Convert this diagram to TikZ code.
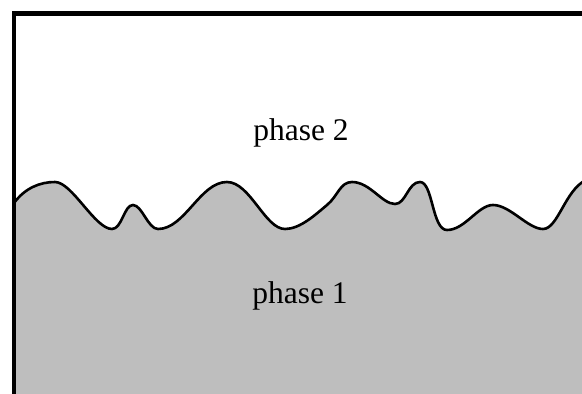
\documentclass[tikz,border=0pt]{standalone}
\usepackage{fontspec}
\setmainfont{Liberation Serif}
\begin{document}
\begin{tikzpicture}[x=1pt,y=-1pt,
  interface/.style={line width=2.6pt},
  boxline/.style={line width=4.2pt},
  label/.style={font=\fontsize{31.5}{36}\selectfont, inner sep=0pt}]
\useasboundingbox (0,0) rectangle (582,394);
\definecolor{phasegray}{RGB}{190,190,190}
\def\interfacepath{(14,203) .. controls (25,188) and (40,182) .. (55,182)
  .. controls (72,182) and (95,229) .. (112,229)
  .. controls (122,229) and (124,205) .. (133,205)
  .. controls (142,205) and (148,229) .. (158,229)
  .. controls (185,229) and (200,182) .. (227,182)
  .. controls (250,182) and (265,229) .. (285,229)
  .. controls (300,229) and (315,215) .. (327,205)
  .. controls (338,196) and (340,182) .. (352,182)
  .. controls (370,182) and (382,204) .. (395,204)
  .. controls (406,204) and (408,182) .. (420,182)
  .. controls (433,182) and (432,230) .. (447,230)
  .. controls (465,230) and (478,205) .. (493,205)
  .. controls (510,205) and (528,229) .. (543,229)
  .. controls (558,229) and (565,190) .. (586,180)}
% phase 1 fill
\fill[phasegray] \interfacepath -- (586,400) -- (14,400) -- cycle;
% interface
\draw[interface] \interfacepath;
% box
\coordinate (bl) at (14,400);
\coordinate (tl) at (14,13.5);
\coordinate (tr) at (590,13.5);
\draw[boxline, line join=miter] (bl) -- (tl) -- (tr);
\node[label, anchor=base] (p2) at (301,140) {phase 2};
\node[label, anchor=base] (p1) at (300,303) {phase 1};
\end{tikzpicture}
\end{document}
